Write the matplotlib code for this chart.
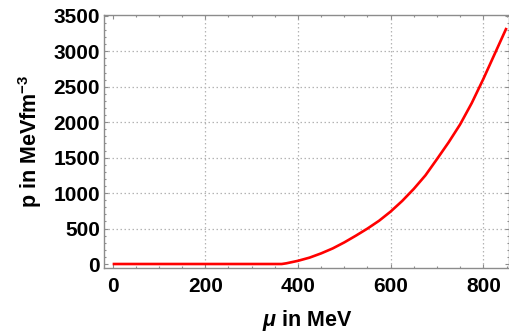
import matplotlib
matplotlib.use("Agg")
import matplotlib.pyplot as plt
from matplotlib.ticker import MultipleLocator

plt.rcParams['font.family'] = ['Liberation Sans', 'DejaVu Sans']
plt.rcParams['font.weight'] = 'bold'
plt.rcParams['mathtext.fontset'] = 'custom'
plt.rcParams['mathtext.rm'] = 'Liberation Sans:bold'
plt.rcParams['mathtext.it'] = 'Liberation Sans:italic:bold'
plt.rcParams['mathtext.bf'] = 'Liberation Sans:bold'

# data
mu = [0, 365, 375, 400, 425, 450, 475, 500, 525, 550, 575, 600, 625, 650,
      675, 700, 725, 750, 775, 800, 825, 850]
p = [0, 0, 10, 45, 90, 150, 220, 305, 400, 500, 610, 740, 890, 1060,
     1250, 1480, 1715, 1970, 2270, 2610, 2970, 3330]

x_ticks = [0, 200, 400, 600, 800]
y_ticks = [0, 500, 1000, 1500, 2000, 2500, 3000, 3500]
x_grid = [200, 400, 600, 800]
y_grid = [500, 1000, 1500, 2000, 2500, 3000]

fig = plt.figure(figsize=(5.10, 3.36), dpi=100)
ax = fig.add_axes([0.2045, 0.2033, 0.9986 - 0.2045, 0.9545 - 0.2033])

grid_color = '#b4b4b4'
for gx in x_grid:
    ax.axvline(gx, color=grid_color, lw=0.9, ls=(0, (1.2, 2.0)), zorder=1)
for gy in y_grid:
    ax.axhline(gy, color=grid_color, lw=0.9, ls=(0, (1.2, 2.0)), zorder=1)

ax.plot(mu, p, color='#ff0000', lw=1.9, zorder=3, solid_capstyle='butt')

ax.set_xlim(-18, 856)
ax.set_ylim(-52, 3508)
ax.set_xticks(x_ticks)
ax.set_yticks(y_ticks)
ax.xaxis.set_minor_locator(MultipleLocator(50))
ax.yaxis.set_minor_locator(MultipleLocator(100))

spine_color = '#8c8c8c'
for s in ax.spines.values():
    s.set_color(spine_color)
    s.set_linewidth(1.0)

ax.tick_params(which='both', direction='in', top=True, right=True,
               color=spine_color, width=0.8)
ax.tick_params(which='major', length=3.0, labelsize=15)
ax.tick_params(which='minor', length=1.5)
ax.tick_params(axis='x', which='major', pad=6.5)
ax.tick_params(axis='y', which='major', pad=3)
for lab in ax.get_xticklabels() + ax.get_yticklabels():
    lab.set_fontweight('bold')

ax.set_xlabel(r"$\mu$ in MeV", fontsize=15.5, fontweight='bold', labelpad=9)
ax.set_ylabel(r"p in MeVfm$^{-3}$", fontsize=15.5, fontweight='bold', labelpad=7)

fig.savefig("out.png", dpi=100)
